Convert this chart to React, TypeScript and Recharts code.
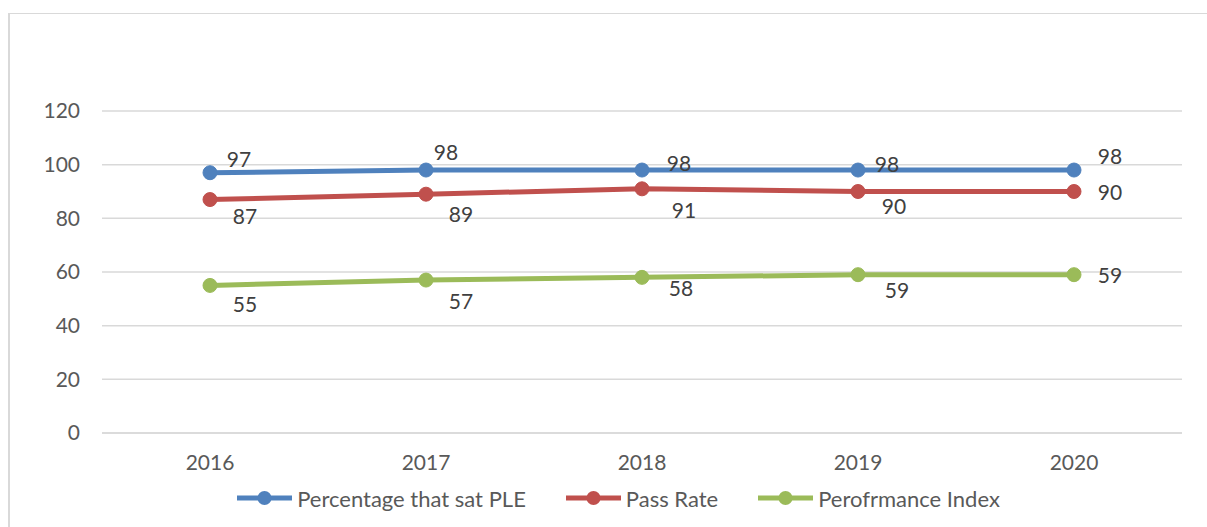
import { LineChart, Line, XAxis, YAxis, CartesianGrid, LabelList } from 'recharts'

// values
const years = ['2016', '2017', '2018', '2019', '2020']
const satPle = [97, 98, 98, 98, 98]
const passRate = [87, 89, 91, 90, 90]
const perfIndex = [55, 57, 58, 59, 59]
const yTicks = [0, 20, 40, 60, 80, 100, 120]

const series = [
  { key: 'sat', name: 'Percentage that sat PLE', values: satPle, color: '#4F81BD' },
  { key: 'pass', name: 'Pass Rate', values: passRate, color: '#C0504D' },
  { key: 'perf', name: 'Perofrmance Index', values: perfIndex, color: '#9BBB59' },
]

// label placement (dx, dy from the point), like the original
const labelOffsets: Record<string, number[][]> = {
  sat: [[29, -14], [20, -19], [37, -8], [29, -7], [36, -15]],
  pass: [[35, 16], [35, 19], [42, 21], [36, 14], [36, 0]],
  perf: [[35, 18], [35, 20], [39, 10], [39, 15], [36, 0]],
}

const data = years.map((year, i) => ({
  year,
  sat: satPle[i],
  pass: passRate[i],
  perf: perfIndex[i],
}))

const FONT = 'Lato, "Open Sans", sans-serif'

const makeLabel = (key: string) => (props: any) => {
  const { x, y, value, index } = props
  const [dx, dy] = labelOffsets[key][index] || [0, 0]
  return (
    <text
      x={x + dx}
      y={y + dy}
      textAnchor="middle"
      dominantBaseline="central"
      fill="#404040"
      fontSize={21}
      fontFamily={FONT}
    >
      {value}
    </text>
  )
}

export default function App() {
  return (
    <div style={{ position: 'absolute', left: 0, top: 0, width: 1207, height: 527, background: '#fff' }}>
      <div
        style={{
          position: 'absolute',
          left: 8,
          top: 13,
          width: 1199,
          height: 514,
          borderTop: '1px solid #d9d9d9',
          borderLeft: '2px solid #d9d9d9',
          boxSizing: 'border-box',
        }}
      />
      <div style={{ position: 'absolute', left: 0, top: 0 }}>
        <LineChart
          width={1207}
          height={527}
          data={data}
          margin={{ top: 111, right: 25, bottom: 0, left: 0 }}
        >
          <CartesianGrid vertical={false} stroke="#d9d9d9" strokeWidth={1.5} />
          <XAxis
            dataKey="year"
            height={94}
            padding={{ left: 108, right: 108 }}
            axisLine={{ stroke: '#d9d9d9', strokeWidth: 1.5 }}
            tickLine={false}
            tickMargin={16}
            tick={{ fill: '#595959', fontSize: 21, fontFamily: FONT }}
          />
          <YAxis
            width={102}
            domain={[0, 120]}
            ticks={yTicks}
            axisLine={false}
            tickLine={false}
            tickMargin={16}
            tick={{ fill: '#595959', fontSize: 21, fontFamily: FONT }}
          />
          {series.map((s) => (
            <Line
              key={s.key}
              dataKey={s.key}
              name={s.name}
              stroke={s.color}
              strokeWidth={5}
              dot={{ r: 7, fill: s.color, stroke: s.color, strokeWidth: 1 }}
              isAnimationActive={false}
            >
              <LabelList dataKey={s.key} content={makeLabel(s.key)} />
            </Line>
          ))}
        </LineChart>
      </div>
      <div
        style={{
          position: 'absolute',
          left: 30,
          top: 484,
          width: 1177,
          height: 28,
          display: 'flex',
          justifyContent: 'center',
          alignItems: 'center',
          gap: 40,
          fontFamily: FONT,
          fontSize: 22,
          color: '#595959',
        }}
      >
        {series.map((s) => (
          <div key={s.key} style={{ display: 'flex', alignItems: 'center', gap: 5 }}>
            <svg width={55} height={16}>
              <line x1={0} y1={8} x2={55} y2={8} stroke={s.color} strokeWidth={5} />
              <circle cx={27.5} cy={8} r={7} fill={s.color} />
            </svg>
            <span>{s.name}</span>
          </div>
        ))}
      </div>
    </div>
  )
}
